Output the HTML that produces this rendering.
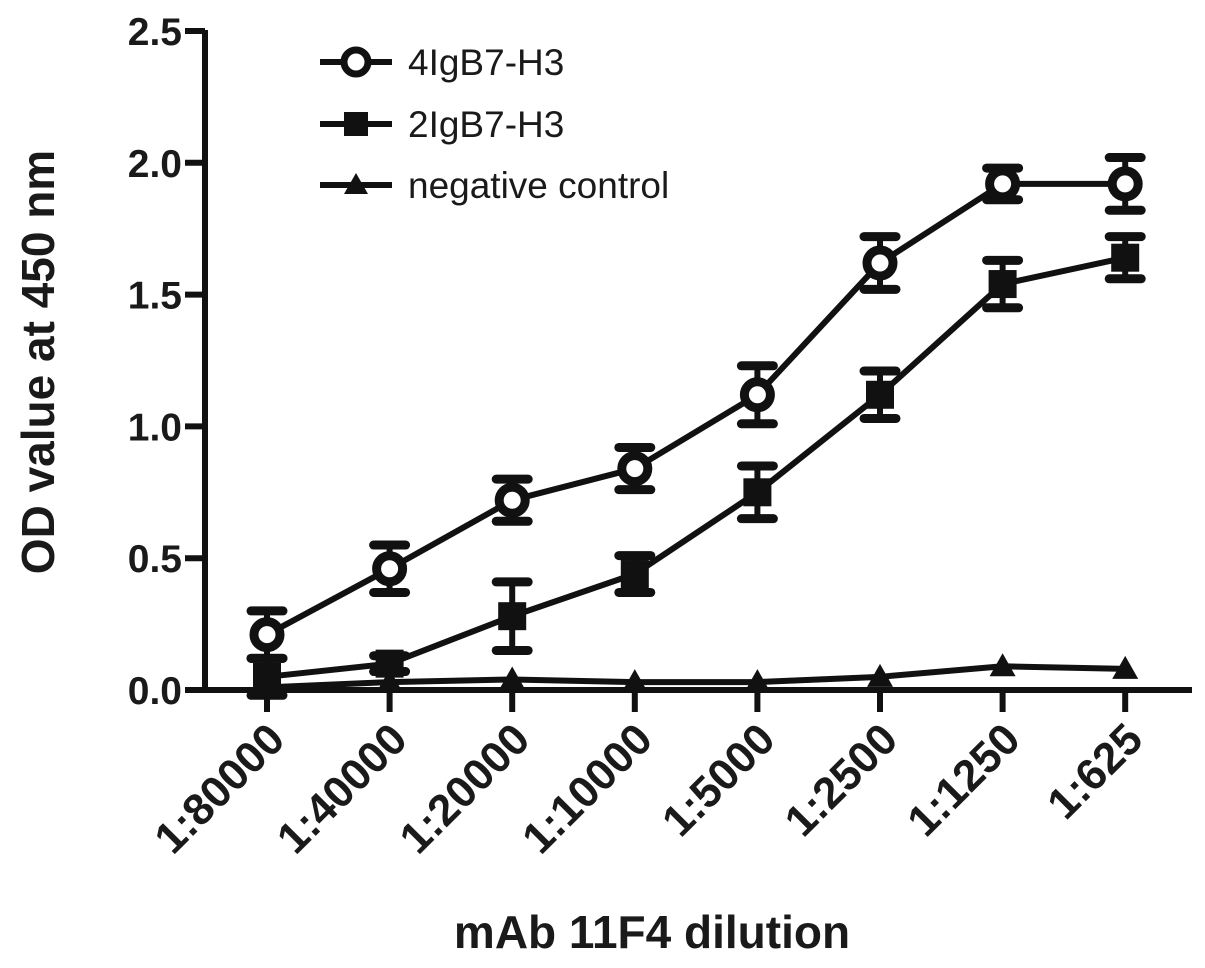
<!DOCTYPE html>
<html><head><meta charset="utf-8"><style>
html,body{margin:0;padding:0;background:#fff;}
svg text{font-family:"Liberation Sans",Arial,sans-serif;font-weight:bold;fill:#1a1a1a;}
</style></head><body>
<svg id="chart" width="1205" height="963" xmlns="http://www.w3.org/2000/svg"></svg>
<script>
const categories=["1:80000","1:40000","1:20000","1:10000","1:5000","1:2500","1:1250","1:625"];
const seriesA=[0.21,0.46,0.72,0.84,1.12,1.62,1.92,1.92];
const errA=[0.09,0.09,0.08,0.08,0.11,0.10,0.06,0.10];
const seriesB=[0.05,0.10,0.28,0.44,0.75,1.12,1.54,1.64];
const errB=[0.07,0.03,0.13,0.07,0.10,0.09,0.09,0.08];
const seriesC=[0.01,0.03,0.04,0.03,0.03,0.05,0.09,0.08];
const yTicks=[0.0,0.5,1.0,1.5,2.0,2.5];
const yTickLabels=["0.0","0.5","1.0","1.5","2.0","2.5"];

const svg=document.getElementById('chart');
const NS="http://www.w3.org/2000/svg";
const C="#111";
function y(v){return 690-v*263.6;}
function x(i){return 267+i*122.6;}
function mk(tag,attrs,parent){const e=document.createElementNS(NS,tag);for(const k in attrs)e.setAttribute(k,attrs[k]);(parent||svg).appendChild(e);return e;}

let ax=mk('line',{x1:205,y1:30,x2:205,y2:692,stroke:C,'stroke-width':6});


ax=mk('line',{x1:185,y1:690,x2:1192,y2:690,stroke:C,'stroke-width':6});


yTicks.forEach((t,i)=>{
  const l=mk('line',{x1:185,y1:y(t),x2:205,y2:y(t),stroke:C,'stroke-width':6});
  
  
  const tx=mk('text',{x:182,y:y(t)+14,'text-anchor':'end','font-size':39});
  tx.textContent=yTickLabels[i];
  
  
});
categories.forEach((c,i)=>{
  const l=mk('line',{x1:x(i),y1:690,x2:x(i),y2:712,stroke:C,'stroke-width':6});
  
  
  const tx=mk('text',{x:0,y:0,'text-anchor':'end','font-size':44,transform:`translate(${x(i)+20},${742}) rotate(-45)`});
  tx.textContent=c;
  
  
});
let t=mk('text',{x:0,y:0,'text-anchor':'middle','font-size':46,transform:'translate(54,362) rotate(-90)'});
t.textContent='OD value at 450 nm';


t=mk('text',{x:652,y:948,'text-anchor':'middle','font-size':46});
t.textContent='mAb 11F4 dilution';



function line(vals,name){
  const p=vals.map((v,i)=>`${x(i)},${y(v)}`).join(' ');
  const e=mk('polyline',{points:p,fill:'none',stroke:C,'stroke-width':6});
  
  
}
function errs(vals,errs,name){
  vals.forEach((v,i)=>{
    const g=mk('g',{stroke:C,'stroke-width':6});
    
    
    const a=y(v+errs[i]),b=y(v-errs[i]);
    mk('line',{x1:x(i),y1:a,x2:x(i),y2:b},g);
    mk('line',{x1:x(i)-16,y1:a,x2:x(i)+16,y2:a,'stroke-width':9,'stroke-linecap':'round'},g);
    mk('line',{x1:x(i)-16,y1:b,x2:x(i)+16,y2:b,'stroke-width':9,'stroke-linecap':'round'},g);
  });
}
line(seriesC,'line-negative-control');
line(seriesB,'line-2igb7-h3');
line(seriesA,'line-4igb7-h3');
errs(seriesA,errA,'error-bar-4igb7-h3');
errs(seriesB,errB,'error-bar-2igb7-h3');
seriesC.forEach((v,i)=>{
  const e=mk('polygon',{points:`${x(i)},${y(v)-13} ${x(i)-13},${y(v)+10} ${x(i)+13},${y(v)+10}`,fill:C});
  
  
});
seriesB.forEach((v,i)=>{
  const e=mk('rect',{x:x(i)-14,y:y(v)-14,width:28,height:28,fill:C});
  
  
});
seriesA.forEach((v,i)=>{
  const e=mk('circle',{cx:x(i),cy:y(v),r:13,fill:'#fff',stroke:C,'stroke-width':9});
  
  
});

const leg=mk('g',{});


const items=[['4IgB7-H3','circle',62],['2IgB7-H3','square',124],['negative control','tri',185]];
items.forEach(([lab,shape,ly])=>{
  const g=mk('g',{},leg);
  
  
  mk('line',{x1:320,y1:ly,x2:392,y2:ly,stroke:C,'stroke-width':6},g);
  if(shape==='circle')mk('circle',{cx:356,cy:ly,r:12,fill:'#fff',stroke:C,'stroke-width':7},g);
  else if(shape==='square')mk('rect',{x:344,y:ly-12,width:24,height:24,fill:C},g);
  else mk('polygon',{points:`356,${ly-12} 344,${ly+9} 368,${ly+9}`,fill:C},g);
  const tx=mk('text',{x:408,y:ly+13,'font-size':37,style:'font-weight:normal'},g);
  tx.textContent=lab;
});
</script>
</body></html>
